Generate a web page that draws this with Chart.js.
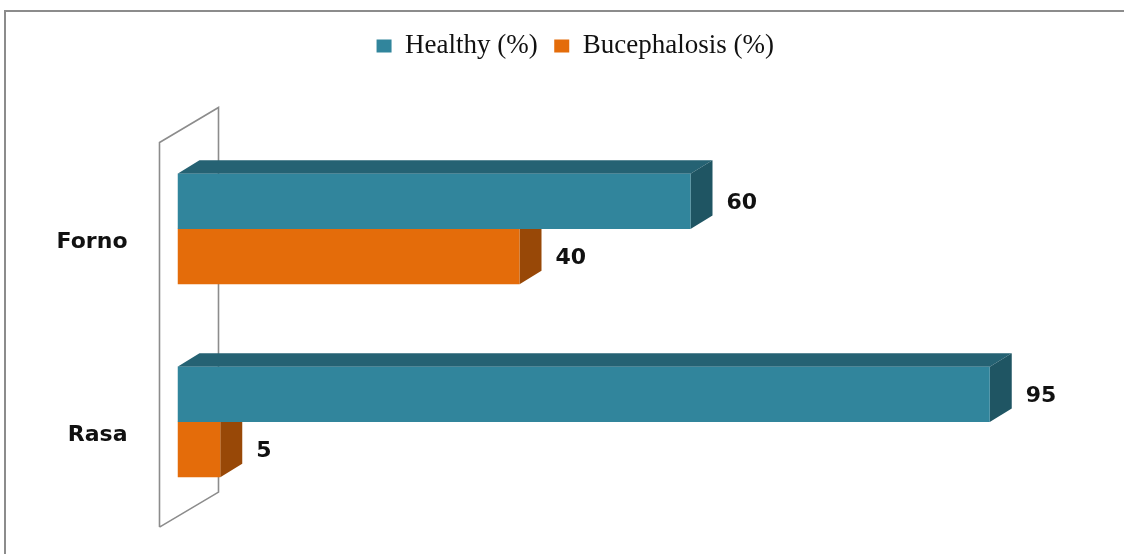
<!DOCTYPE html>
<html>
<head>
<meta charset="utf-8">
<script src="https://cdn.jsdelivr.net/npm/chart.js@4/dist/chart.umd.min.js"></script>
<style>
  html, body { margin: 0; padding: 0; background: #fff; }
  #wrap { position: relative; width: 1124px; height: 554px; overflow: hidden; }
  #frame {
    position: absolute; left: 4px; top: 10px; right: -10px; bottom: -10px;
    border-top: 2px solid #8c8c8c; border-left: 2px solid #8c8c8c;
    pointer-events: none;
  }
  #chart { position: absolute; left: 0; top: 0; }
</style>
</head>
<body>
<div id="wrap">
  <div id="frame"></div>
  <canvas id="chart" width="1124" height="554"></canvas>
</div>
<script>
var categories = ['Forno', 'Rasa'];
var healthy = [60, 95];
var bucephalosis = [40, 5];
var seriesNames = ['Healthy (%)', 'Bucephalosis (%)'];

// 3d look: depth offset of the bars
var DX = 22, DY = 13.5;
var faceColors = [
  { top: '#256273', side: '#1f5563' },
  { top: '#b45a0c', side: '#984807' }
];

function poly(ctx, pts, color) {
  ctx.beginPath();
  ctx.moveTo(pts[0][0], pts[0][1]);
  for (var i = 1; i < pts.length; i++) ctx.lineTo(pts[i][0], pts[i][1]);
  ctx.closePath();
  ctx.fillStyle = color;
  ctx.fill();
}

var depthPlugin = {
  id: 'depth',
  beforeDatasetsDraw: function (chart) {
    var ctx = chart.ctx;
    var ca = chart.chartArea;
    ctx.save();

    // back wall outline
    var fx = ca.left - 18, ft = ca.top + 10, fb = ca.bottom + 8.5;
    var wx = 59, wy = -35;
    ctx.strokeStyle = '#8c8c8c';
    ctx.lineWidth = 1.6;
    ctx.beginPath();
    ctx.moveTo(fx, fb);
    ctx.lineTo(fx, ft);
    ctx.lineTo(fx + wx, ft + wy);
    ctx.lineTo(fx + wx, fb + wy);
    ctx.lineTo(fx, fb);
    ctx.stroke();

    // top and side faces, drawn back to front
    for (var d = chart.data.datasets.length - 1; d >= 0; d--) {
      var meta = chart.getDatasetMeta(d);
      meta.data.forEach(function (el) {
        var p = el.getProps(['x', 'y', 'base', 'height'], true);
        var t = p.y - p.height / 2, b = p.y + p.height / 2;
        poly(ctx, [[p.base, t], [p.x, t], [p.x + DX, t - DY], [p.base + DX, t - DY]], faceColors[d].top);
        poly(ctx, [[p.x, t], [p.x + DX, t - DY], [p.x + DX, b - DY], [p.x, b]], faceColors[d].side);
      });
    }
    ctx.restore();
  },
  afterDatasetsDraw: function (chart) {
    var ctx = chart.ctx;
    ctx.save();
    ctx.font = 'bold 22px "DejaVu Sans"';
    ctx.fillStyle = '#111';
    ctx.textAlign = 'left';
    ctx.textBaseline = 'middle';
    chart.data.datasets.forEach(function (ds, d) {
      chart.getDatasetMeta(d).data.forEach(function (el, i) {
        var p = el.getProps(['x', 'y'], true);
        ctx.fillText(String(ds.data[i]), p.x + DX + 14, p.y + 1.5);
      });
    });
    ctx.restore();
  }
};

new Chart(document.getElementById('chart').getContext('2d'), {
  type: 'bar',
  data: {
    labels: categories,
    datasets: [{
      label: seriesNames[0],
      data: healthy,
      backgroundColor: '#31859c',
      borderWidth: 0
    }, {
      label: seriesNames[1],
      data: bucephalosis,
      backgroundColor: '#e46c0a',
      borderWidth: 0
    }]
  },
  options: {
    indexAxis: 'y',
    responsive: false,
    animation: false,
    events: [],
    layout: {
      padding: { top: 16, left: 32.5, right: 6, bottom: 35.4 }
    },
    datasets: {
      bar: {
        categoryPercentage: 0.572,
        barPercentage: 1.0
      }
    },
    plugins: {
      tooltip: { enabled: false },
      legend: {
        position: 'top',
        labels: {
          boxWidth: 15,
          boxHeight: 13,
          padding: 16.5,
          color: '#111',
          font: { family: '"Liberation Serif", "Times New Roman", serif', size: 27 }
        }
      }
    },
    scales: {
      x: {
        position: 'top',
        min: 0,
        max: 110,
        grid: { display: false, drawTicks: false },
        border: { display: false },
        ticks: { display: false },
        afterFit: function (s) { s.height = 63; }
      },
      y: {
        grid: { display: false, drawTicks: false },
        border: { display: false },
        ticks: {
          color: '#111',
          padding: 50,
          labelOffset: 13,
          font: { family: '"DejaVu Sans", Verdana, sans-serif', size: 22, weight: 'bold' }
        },
        afterFit: function (s) {
          s.width = 145;
          s.paddingTop = 0;
          s.paddingBottom = 0;
        }
      }
    }
  },
  plugins: [depthPlugin]
});
</script>
</body>
</html>
